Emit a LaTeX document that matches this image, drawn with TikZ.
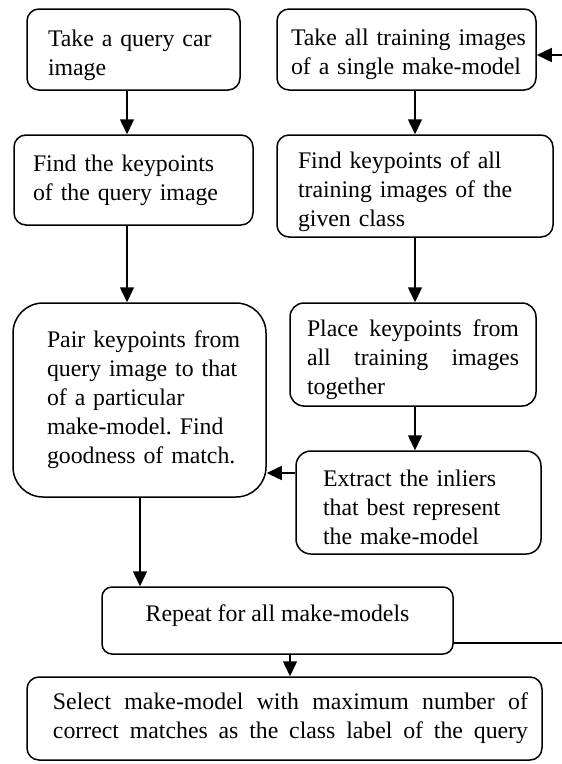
\documentclass[tikz,border=0pt]{standalone}
\usepackage{fontspec}
\setmainfont{Liberation Serif}
\usetikzlibrary{arrows.meta}
% invisible strut that lowers a text block inside its box
\newcommand\padtop[1]{\rule{0pt}{#1}}

\begin{document}
\begin{tikzpicture}[x=1pt, y=-1pt,
  every node/.style={font=\fontsize{23.8}{29}\selectfont\frenchspacing},
  box/.style={draw, line width=1.5pt, rounded corners=12pt, inner sep=0pt, align=left},
  arr/.style={line width=1.5pt, -{Triangle[length=15pt, width=14pt]}},
  flow/.style={line width=1.5pt}]
  \useasboundingbox (0,0) rectangle (562,764);

  % left column: query image
  \node[box, minimum width=213pt, minimum height=81pt, text width=171pt] (q1) at (133.5,49.5)
    {\padtop{28pt}\mbox{Take a query car}\\\mbox{image}};
  \node[box, minimum width=239pt, minimum height=90pt, text width=201pt] (q2) at (133.5,180)
    {\mbox{Find the keypoints}\\\mbox{of the query image}};
  \node[box, rounded corners=30pt, minimum width=253pt, minimum height=194pt, text width=185pt] (q3) at (139.5,400)
    {\mbox{Pair keypoints from}\\\mbox{query image to that}\\\mbox{of a particular}\\\mbox{make-model. Find}\\\mbox{goodness of match.}};

  % right column: training images
  \node[box, minimum width=259pt, minimum height=81pt, text width=231pt] (t1) at (406.5,49.5)
    {\padtop{27pt}\mbox{Take all training images}\\\mbox{of a single make-model}};
  \node[box, minimum width=276pt, minimum height=102pt, text width=234pt] (t2) at (415,186)
    {\padtop{29pt}\mbox{Find keypoints of all}\\\mbox{training images of the}\\\mbox{given class}};
  \node[box, rounded corners=14pt, minimum width=246pt, minimum height=103pt, text width=212pt] (t3) at (413,354.5)
    {\padtop{28pt}\makebox[212pt][s]{Place \hfill keypoints \hfill from}\\
     \makebox[212pt][s]{all \hfill training \hfill images}\\\mbox{together}};
  \node[box, rounded corners=15pt, minimum width=245pt, minimum height=103pt, text width=191pt] (t4) at (418.5,502.5)
    {\padtop{27pt}\mbox{Extract the inliers}\\\mbox{that best represent}\\\mbox{the make-model}};

  % bottom: loop and final decision
  \node[box, rounded corners=10pt, minimum width=351pt, minimum height=67pt, align=center] (rep) at (277.5,620.5)
    {\raisebox{4.5pt}[\height][\depth]{Repeat for all make-models}};
  \node[box, minimum width=515pt, minimum height=83pt, text width=487pt, align=right] (sel) at (284.5,718.5)
    {\makebox[475pt][s]{Select \hfill make-model \hfill with \hfill maximum \hfill number \hfill of}\\
     \makebox[475pt][s]{correct \hfill matches \hfill as \hfill the \hfill class \hfill label \hfill of \hfill the \hfill query}};

  % left column arrows
  \draw[arr] ([xshift=-6.5pt]q1.south) -- ([xshift=-6.5pt]q2.north);
  \draw[arr] ([xshift=-6.5pt]q2.south) -- ([xshift=-12.5pt]q3.north);
  \draw[arr] ([xshift=0.5pt]q3.south) -- ([xshift=-137.5pt]rep.north);

  % right column arrows
  \draw[arr] ([xshift=8.5pt]t1.south) -- (t2.north);
  \draw[arr] (t2.south) -- ([xshift=2pt]t3.north);
  \draw[arr] ([xshift=2pt]t3.south) -- ([xshift=-3.5pt]t4.north);

  % inliers feed the matching step
  \path ([yshift=29.5pt]t4.west) coordinate (inl);
  \draw[arr] (inl) -- (inl -| q3.east);

  % repeat to the final selection
  \draw[arr] ([xshift=12.5pt]rep.south) -- ([xshift=5.5pt]sel.north);

  % loop back to the next make-model (runs along the right edge)
  \coordinate (loopout) at (562,643);
  \coordinate (loopin) at (562,55);
  \draw[flow] (rep.east |- loopout) -- (loopout);
  \draw[arr] (loopin) -- (t1.east |- loopin);
\end{tikzpicture}
\end{document}
